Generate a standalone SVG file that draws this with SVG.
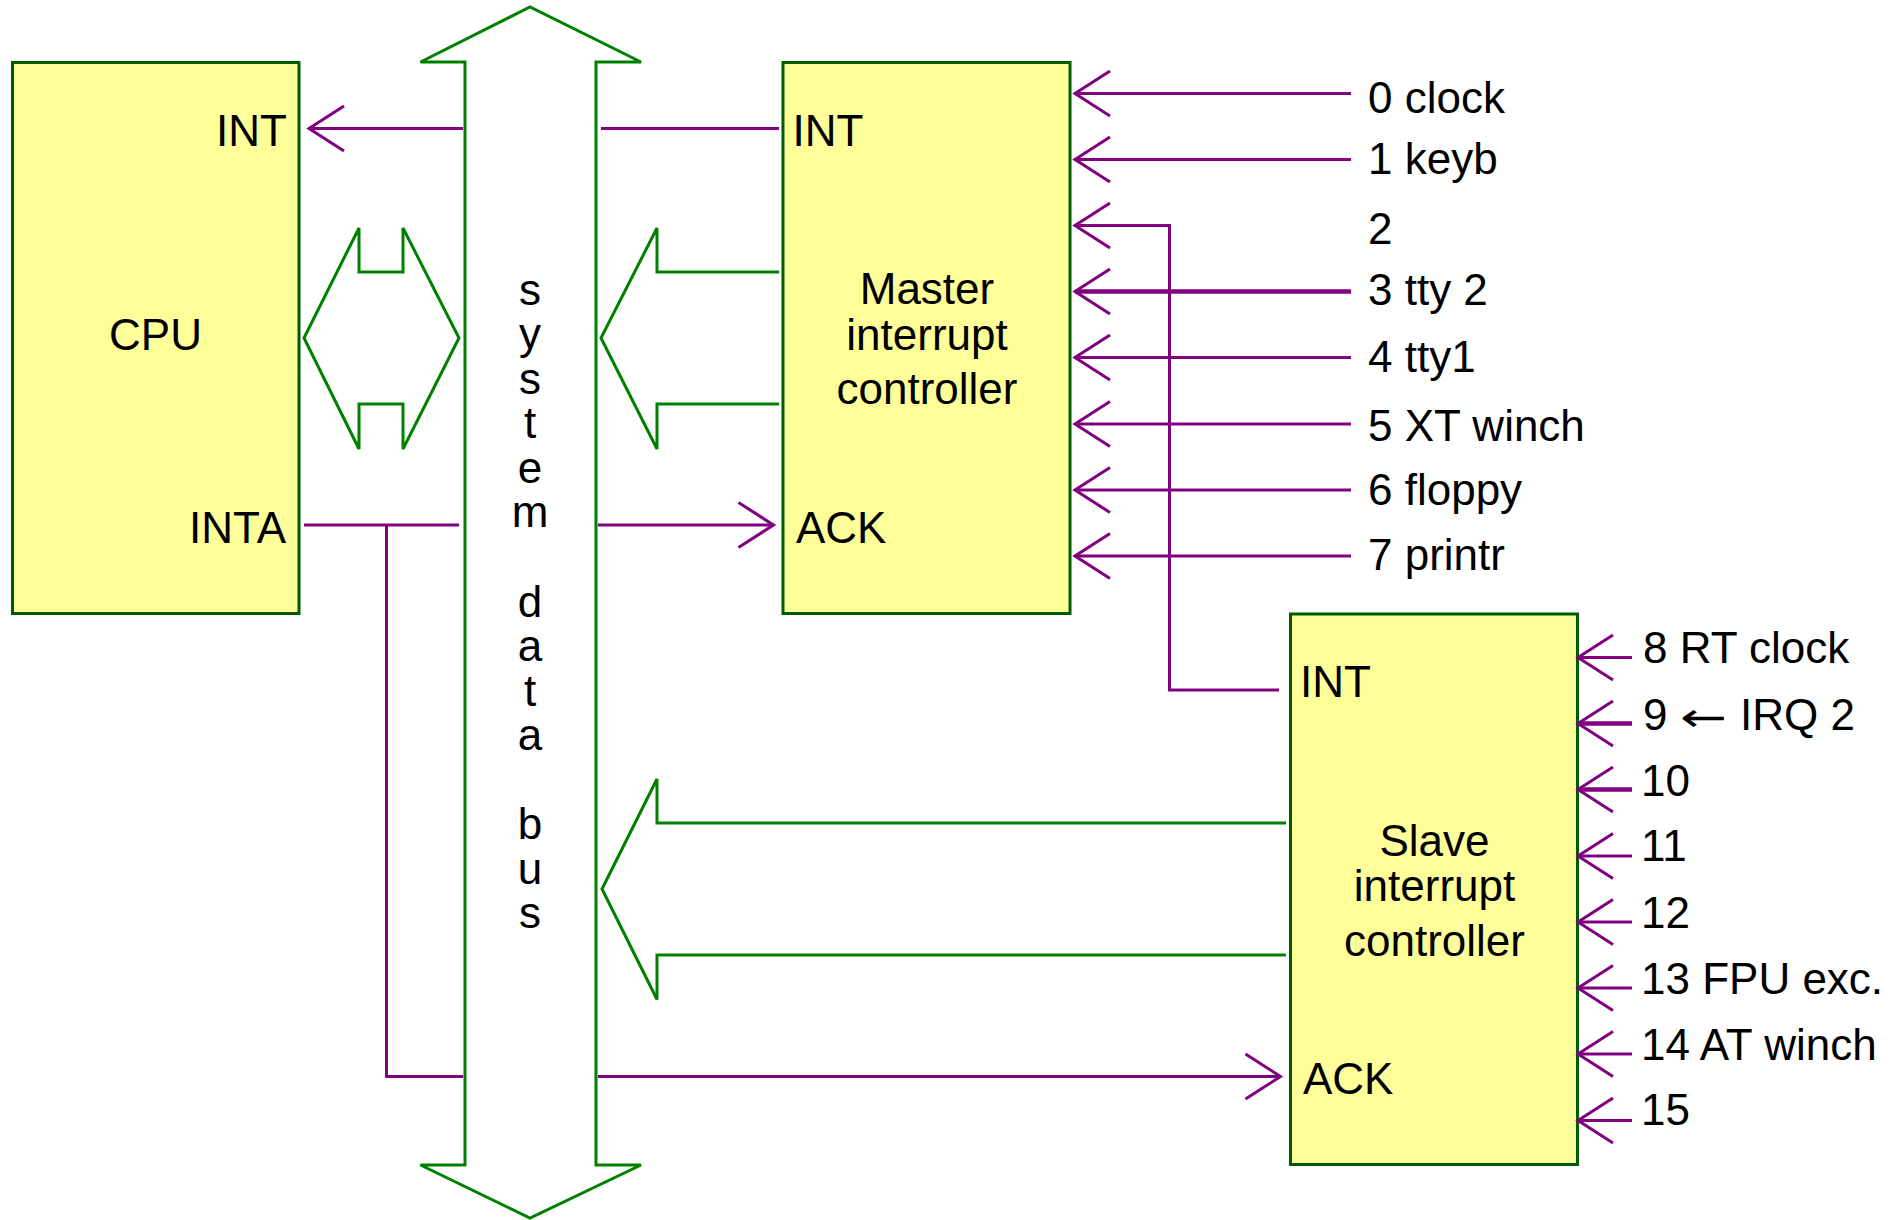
<svg xmlns="http://www.w3.org/2000/svg" width="1900" height="1220" viewBox="0 0 1900 1220">
<style>
text{font-family:"Liberation Sans",Arial,Helvetica,sans-serif;font-size:44px;fill:#000}
.box{fill:#ffff99;stroke:#005a00;stroke-width:3}
.bus{fill:none;stroke:#008000;stroke-width:3;stroke-linejoin:miter}
.sig{fill:none;stroke:#800080;stroke-width:3}
.thick{stroke-width:4.5}
.mid{text-anchor:middle}
.end{text-anchor:end}
.arr{font-family:"DejaVu Sans","Liberation Sans",sans-serif;font-size:40px}
</style>
<defs>
<marker id="vee" markerUnits="userSpaceOnUse" markerWidth="50" markerHeight="60" viewBox="-45 -30 50 60" refX="0" refY="0" orient="auto" overflow="visible">
<path d="M-35,-22.5 L0,0 L-35,22.5" fill="none" stroke="#800080" stroke-width="3"/>
</marker>
</defs>
<rect width="1900" height="1220" fill="#fff"/>

<g id="bus">
<polygon class="bus" points="465,62 420.5,62 530,7 641,62 596,62 596,1165 641,1165 530,1218 420.5,1165 465,1165"/>
<text class="mid" x="530" y="304.5"><tspan x="530" y="304.5">s</tspan><tspan x="530" dy="44.5">y</tspan><tspan x="530" dy="44.5">s</tspan><tspan x="530" dy="44.5">t</tspan><tspan x="530" dy="44.5">e</tspan><tspan x="530" dy="44.5">m</tspan><tspan x="530" dy="89.5">d</tspan><tspan x="530" dy="44.5">a</tspan><tspan x="530" dy="44.5">t</tspan><tspan x="530" dy="44.5">a</tspan><tspan x="530" dy="89">b</tspan><tspan x="530" dy="44.5">u</tspan><tspan x="530" dy="44.5">s</tspan></text>
</g>

<g id="cpu">
<rect class="box" x="12.5" y="62.5" width="286.5" height="551"/>
<text class="mid" x="155.5" y="349.5">CPU</text>
<text class="end" x="287" y="145.5">INT</text>
<text class="end" x="286" y="542.5">INTA</text>
</g>

<g id="master">
<rect class="box" x="783" y="62.5" width="287" height="551"/>
<text x="792.5" y="145.5">INT</text>
<text x="796" y="542.5">ACK</text>
<text class="mid" x="927" y="304">Master</text>
<text class="mid" x="927" y="350">interrupt</text>
<text class="mid" x="927" y="404">controller</text>
</g>

<g id="slave">
<rect class="box" x="1290.5" y="614" width="287" height="550.5"/>
<text x="1300" y="696.5">INT</text>
<text x="1303" y="1093.5">ACK</text>
<text class="mid" x="1434.5" y="856">Slave</text>
<text class="mid" x="1434.5" y="901">interrupt</text>
<text class="mid" x="1434.5" y="955.5">controller</text>
</g>

<g id="master-inputs">
<text x="1368" y="113">0 clock</text>
<text x="1368" y="174">1 keyb</text>
<text x="1368" y="244">2</text>
<text x="1368" y="305">3 tty 2</text>
<text x="1368" y="372">4 tty1</text>
<text x="1368" y="441">5 XT winch</text>
<text x="1368" y="505">6 floppy</text>
<text x="1368" y="570">7 printr</text>
</g>

<g id="slave-inputs">
<text x="1643" y="663">8 RT clock</text>
<text x="1643" y="730">9<tspan class="arr" x="1680" y="731" textLength="47" lengthAdjust="spacingAndGlyphs">←</tspan><tspan x="1740" y="730">IRQ 2</tspan></text>
<text x="1641" y="796">10</text>
<text x="1641" y="861">11</text>
<text x="1641" y="927.5">12</text>
<text x="1641" y="993.5">13 FPU exc.</text>
<text x="1641" y="1060">14 AT winch</text>
<text x="1641" y="1125">15</text>
</g>

<g id="connectors">
<polygon class="bus" points="304,338 359,228 359,272 403,272 403,228 459,338 403,449 403,404 359,404 359,449"/>
<polyline class="bus" points="779,272 657,272 657,228 601,338 657,449 657,404 779,404"/>
<polyline class="bus" points="1286,823 657,823 657,779 602,889 657,999.5 657,955 1286,955"/>
<line class="sig" x1="463" y1="128.5" x2="309" y2="128.5" marker-end="url(#vee)"/>
<line class="sig" x1="601" y1="128.5" x2="779" y2="128.5"/>
<line class="sig" x1="304" y1="525" x2="459" y2="525"/>
<polyline class="sig" points="386.5,525 386.5,1076.5 463,1076.5"/>
<line class="sig" x1="598" y1="525" x2="773.5" y2="525" marker-end="url(#vee)"/>
<line class="sig" x1="598" y1="1076.5" x2="1280.5" y2="1076.5" marker-end="url(#vee)"/>
<polyline class="sig" points="1279,690 1169.5,690 1169.5,225.5 1075,225.5" marker-end="url(#vee)"/>
<line class="sig" x1="1351" y1="93.5" x2="1075" y2="93.5" marker-end="url(#vee)"/>
<line class="sig" x1="1351" y1="159.5" x2="1075" y2="159.5" marker-end="url(#vee)"/>
<line class="sig thick" x1="1351" y1="291.5" x2="1075" y2="291.5" marker-end="url(#vee)"/>
<line class="sig" x1="1351" y1="357.5" x2="1075" y2="357.5" marker-end="url(#vee)"/>
<line class="sig" x1="1351" y1="424" x2="1075" y2="424" marker-end="url(#vee)"/>
<line class="sig" x1="1351" y1="490" x2="1075" y2="490" marker-end="url(#vee)"/>
<line class="sig" x1="1351" y1="556" x2="1075" y2="556" marker-end="url(#vee)"/>
<line class="sig" x1="1632" y1="657.5" x2="1578" y2="657.5" marker-end="url(#vee)"/>
<line class="sig thick" x1="1632" y1="723.5" x2="1578" y2="723.5" marker-end="url(#vee)"/>
<line class="sig thick" x1="1632" y1="789.5" x2="1578" y2="789.5" marker-end="url(#vee)"/>
<line class="sig" x1="1632" y1="856" x2="1578" y2="856" marker-end="url(#vee)"/>
<line class="sig" x1="1632" y1="922" x2="1578" y2="922" marker-end="url(#vee)"/>
<line class="sig" x1="1632" y1="988" x2="1578" y2="988" marker-end="url(#vee)"/>
<line class="sig" x1="1632" y1="1054" x2="1578" y2="1054" marker-end="url(#vee)"/>
<line class="sig" x1="1632" y1="1120.5" x2="1578" y2="1120.5" marker-end="url(#vee)"/>
</g>
</svg>
